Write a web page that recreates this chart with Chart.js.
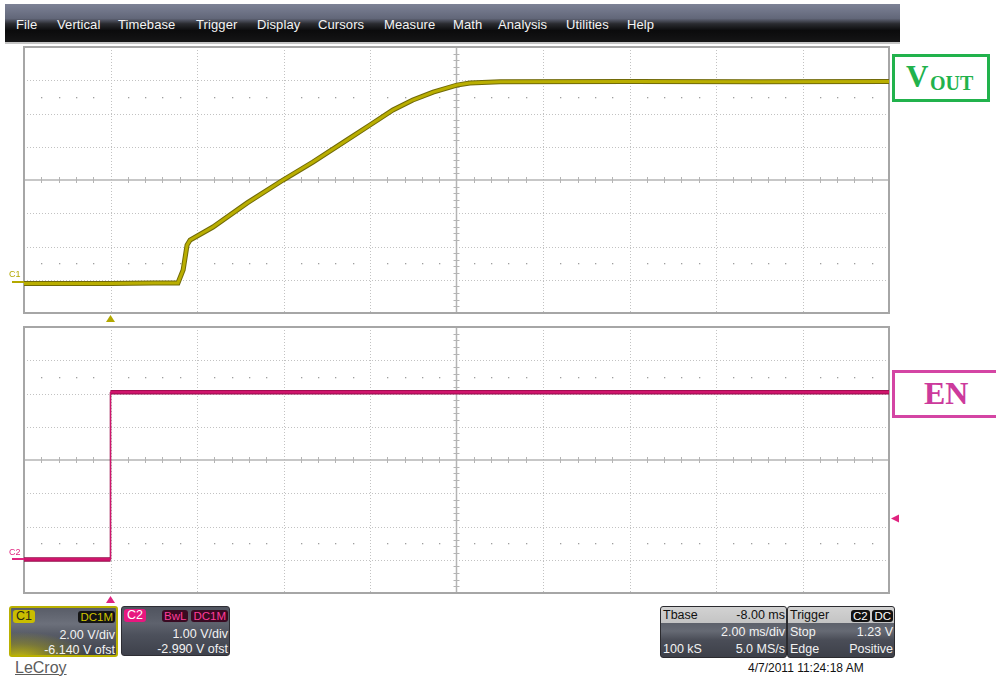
<!DOCTYPE html>
<html>
<head>
<meta charset="utf-8">
<script src="https://cdn.jsdelivr.net/npm/chart.js@4/dist/chart.umd.min.js"></script>
<style>
  html,body{margin:0;padding:0;background:#fff;}
  body{width:996px;height:681px;overflow:hidden;position:relative;font-family:"Liberation Sans",Arial,sans-serif;}
  .abs{position:absolute;}
  #menu{left:5px;top:4px;width:895px;height:38px;
    background:linear-gradient(180deg,#7d8296 0%,#626779 38%,#2a2b30 52%,#0b0b0c 70%,#151516 100%);
    border-bottom:2px solid #c4c4c4;}
  #menu span{position:absolute;top:13px;color:#f4f4f4;font-size:13px;letter-spacing:0.1px;}
  canvas{position:absolute;left:0;}
  .box{position:absolute;border-radius:3px;overflow:hidden;color:#f2f2f2;font-size:12.5px;}
  .box .t{position:absolute;white-space:nowrap;line-height:14px;}
  .badge{position:absolute;border-radius:3px;font-size:11.5px;line-height:12px;padding:0 2px;white-space:nowrap;}
  .lbl{position:absolute;font-family:"Liberation Serif","Times New Roman",serif;font-weight:bold;background:#fff;}
</style>
</head>
<body>
<div id="menu" class="abs">
  <span style="left:11px">File</span>
  <span style="left:52px">Vertical</span>
  <span style="left:113px">Timebase</span>
  <span style="left:191px">Trigger</span>
  <span style="left:252px">Display</span>
  <span style="left:313px">Cursors</span>
  <span style="left:379px">Measure</span>
  <span style="left:448px">Math</span>
  <span style="left:493px">Analysis</span>
  <span style="left:561px">Utilities</span>
  <span style="left:622px">Help</span>
</div>

<canvas id="c1" width="996" height="280" style="top:44px"></canvas>
<canvas id="c2" width="996" height="282" style="top:324px"></canvas>

<!-- channel labels -->
<div class="lbl" style="left:892px;top:54px;width:92px;height:42px;border:3px solid #21b24c;color:#21b24c;">
  <span style="position:absolute;left:11px;top:2px;font-size:31px;">V</span>
  <span style="position:absolute;left:35px;top:15px;font-size:20px;">OUT</span>
</div>
<div class="lbl" style="left:892px;top:370px;width:120px;height:42px;border:3px solid #d445a4;color:#cc3a9c;">
  <span style="position:absolute;left:29px;top:2px;font-size:32px;">EN</span>
</div>

<!-- C1 info box -->
<div class="box" style="left:9px;top:606px;width:105px;height:47px;border:2px solid #b9b000;
  background:radial-gradient(ellipse 70px 26px at 8px 50px, rgba(205,195,10,0.95) 0%, rgba(205,195,10,0.35) 55%, rgba(205,195,10,0) 100%),
  linear-gradient(180deg,#595d68 0%,#6c707b 34%,#585c67 55%,#3d404a 100%);">
  <div class="badge" style="left:2px;top:2px;background:#c9bd00;color:#2a2a10;font-size:12.5px;line-height:13px;padding:0 3px;">C1</div>
  <div class="badge" style="right:1px;top:3px;background:#141414;color:#cfc400;">DC1M</div>
  <div class="t" style="right:1px;top:20px;">2.00 V/div</div>
  <div class="t" style="right:1px;top:35px;">-6.140 V ofst</div>
</div>
<!-- C2 info box -->
<div class="box" style="left:121px;top:606px;width:107px;height:48px;border:1px solid #2e2e34;
  background:linear-gradient(180deg,#50545f 0%,#5e626d 34%,#4d515c 58%,#3e414b 100%);">
  <div class="badge" style="left:2px;top:2px;background:#e8177f;color:#fff;font-size:12.5px;line-height:13px;padding:0 3px;">C2</div>
  <div class="badge" style="left:40px;top:3px;background:#3a0a22;color:#ff3c9c;">BwL</div>
  <div class="badge" style="right:1px;top:3px;background:#3a0a22;color:#ff3c9c;">DC1M</div>
  <div class="t" style="right:1px;top:20px;">1.00 V/div</div>
  <div class="t" style="right:1px;top:35px;">-2.990 V ofst</div>
</div>
<!-- Tbase box -->
<div class="box" style="left:660px;top:606px;width:125px;height:50px;border:1px solid #2b2b2f;
  background:linear-gradient(180deg,#d2d2d2 0%,#c4c4c4 32%,#5d616b 32%,#666a74 48%,#4a4d57 66%,#3d4049 100%);">
  <div class="t" style="left:2px;top:1px;color:#111;">Tbase</div>
  <div class="t" style="right:1px;top:1px;color:#111;">-8.00 ms</div>
  <div class="t" style="right:1px;top:18px;">2.00 ms/div</div>
  <div class="t" style="left:2px;top:35px;">100 kS</div>
  <div class="t" style="right:1px;top:35px;">5.0 MS/s</div>
</div>
<!-- Trigger box -->
<div class="box" style="left:787px;top:606px;width:106px;height:50px;border:1px solid #2b2b2f;
  background:linear-gradient(180deg,#d2d2d2 0%,#c4c4c4 32%,#5d616b 32%,#666a74 48%,#4a4d57 66%,#3d4049 100%);">
  <div class="t" style="left:2px;top:1px;color:#111;">Trigger</div>
  <div class="badge" style="left:63px;top:3px;background:#111;color:#fff;">C2</div>
  <div class="badge" style="right:1px;top:3px;background:#111;color:#fff;">DC</div>
  <div class="t" style="left:2px;top:18px;">Stop</div>
  <div class="t" style="right:1px;top:18px;">1.23 V</div>
  <div class="t" style="left:2px;top:35px;">Edge</div>
  <div class="t" style="right:1px;top:35px;">Positive</div>
</div>

<div class="abs" style="left:15px;top:659px;font-size:16px;color:#5c5c5c;text-decoration:underline;">LeCroy</div>
<div class="abs" style="left:748px;top:661px;font-size:12px;color:#111;">4/7/2011 11:24:18 AM</div>

<script>
// ---------------- data ----------------
// time axis: ms, 2 ms/div, trigger at 0 ms (1 div from the left edge)
const timeGrid = [-2, 0, 2, 4, 6, 8, 10, 12, 14, 16, 18];

// C1 : VOUT (V), 2.00 V/div, offset -6.140 V
const voutTime = [-2.0, 0.0, 1.0, 1.56, 1.68, 1.77, 1.84, 2.37, 3.16, 3.99, 4.68, 5.47, 6.00, 6.53, 6.99, 7.46, 8.01, 8.31, 9.01, 12.0, 15.0, 18.0];
const voutVolts = [-0.08, -0.08, -0.06, -0.05, 0.73, 2.23, 2.53, 3.31, 4.76, 6.14, 7.22, 8.55, 9.45, 10.35, 10.95, 11.43, 11.85, 11.97, 12.05, 12.06, 12.05, 12.06];
const c1Grid = [-1.86, 0.14, 2.14, 4.14, 6.14, 8.14, 10.14, 12.14, 14.14];

// C2 : EN (V), 1.00 V/div, offset -2.990 V
const enTime = [-2.0, 0.0, 0.0, 18.0];
const enVolts = [0.0, 0.0, 5.03, 5.03];
const c2Grid = [-1.01, -0.01, 0.99, 1.99, 2.99, 3.99, 4.99, 5.99, 6.99];
const triggerLevel = 1.23;

// ---------------- plugins ----------------
function px(v){ return Math.round(v) + 0.5; }

const scopeGrid = {
  id: 'scopeGrid',
  beforeDatasetsDraw(chart, args, o) {
    const {ctx, chartArea: a} = chart;
    const xs = chart.scales.x, ys = chart.scales.y;
    const xP = o.xLines.map(v => xs.getPixelForValue(v));
    const yP = o.yLines.map(v => ys.getPixelForValue(v));
    const xc = xP[5], yc = yP[4];
    ctx.save();
    ctx.strokeStyle = '#c2c2c2'; ctx.lineWidth = 1; ctx.setLineDash([1, 2]);
    xP.forEach((p, i) => { if (i === 0 || i === 5 || i === xP.length - 1) return;
      ctx.beginPath(); ctx.moveTo(px(p), a.top); ctx.lineTo(px(p), a.bottom); ctx.stroke(); });
    yP.forEach((p, i) => { if (i === 0 || i === 4 || i === yP.length - 1) return;
      ctx.beginPath(); ctx.moveTo(a.left, px(p)); ctx.lineTo(a.right, px(p)); ctx.stroke(); });
    ctx.setLineDash([]);
    ctx.strokeStyle = '#b4b4b4'; ctx.lineWidth = 1.5;
    ctx.beginPath(); ctx.moveTo(xc, a.top); ctx.lineTo(xc, a.bottom); ctx.stroke();
    ctx.beginPath(); ctx.moveTo(a.left, yc); ctx.lineTo(a.right, yc); ctx.stroke();
    ctx.lineWidth = 1;
    for (let i = 0; i < xP.length - 1; i++) {
      for (let k = 1; k < 5; k++) {
        const x = px(xP[i] + (xP[i + 1] - xP[i]) * k / 5);
        ctx.beginPath(); ctx.moveTo(x, yc - 3); ctx.lineTo(x, yc + 3); ctx.stroke();
      }
    }
    for (let i = 0; i < yP.length - 1; i++) {
      for (let k = 1; k < 5; k++) {
        const y = px(yP[i] + (yP[i + 1] - yP[i]) * k / 5);
        ctx.beginPath(); ctx.moveTo(xc - 3, y); ctx.lineTo(xc + 3, y); ctx.stroke();
      }
    }
    ctx.fillStyle = '#9e9e9e';
    o.dotRows.forEach(v => {
      const y = Math.round(ys.getPixelForValue(v));
      for (let i = 0; i < xP.length - 1; i++) {
        for (let k = 1; k < 5; k++) {
          const x = Math.round(xP[i] + (xP[i + 1] - xP[i]) * k / 5);
          ctx.fillRect(x, y, 1.3, 1.3);
        }
      }
    });
    ctx.strokeStyle = '#a6a6a6'; ctx.lineWidth = 2;
    ctx.strokeRect(a.left, a.top, a.right - a.left, a.bottom - a.top);
    ctx.restore();
  }
};

const scopeMarkers = {
  id: 'scopeMarkers',
  afterDraw(chart, args, o) {
    const {ctx, chartArea: a} = chart;
    const xs = chart.scales.x, ys = chart.scales.y;
    ctx.save();
    ctx.fillStyle = o.color;
    const xt = xs.getPixelForValue(0);
    const t0 = a.bottom + o.triGap;
    ctx.beginPath(); ctx.moveTo(xt, t0); ctx.lineTo(xt - 4.5, t0 + 7); ctx.lineTo(xt + 4.5, t0 + 7); ctx.closePath(); ctx.fill();
    const yg = Math.round(ys.getPixelForValue(0));
    ctx.fillRect(12, yg - 1, a.left - 12, 2);
    ctx.font = '9px "Liberation Sans", Arial, sans-serif';
    ctx.textBaseline = 'alphabetic';
    ctx.fillText(o.label, 9, yg - o.labelGap);
    if (o.level !== null) {
      const yl = ys.getPixelForValue(o.level);
      ctx.beginPath(); ctx.moveTo(a.right + 2, yl); ctx.lineTo(a.right + 10, yl - 4); ctx.lineTo(a.right + 10, yl + 4); ctx.closePath(); ctx.fill();
    }
    ctx.restore();
  }
};

function pts(xa, ya){ return xa.map((x, i) => ({x: x, y: ya[i]})); }

function makeChart(id, xArr, yArr, grid, dark, core, opts) {
  return new Chart(document.getElementById(id), {
    type: 'line',
    data: { datasets: [
      { data: pts(xArr, yArr), borderColor: dark, borderWidth: opts.darkW, pointRadius: 0, tension: 0, order: 2,
        segment: { borderWidth: c => c.p0.parsed.x === c.p1.parsed.x ? 1.6 : opts.darkW } },
      { data: pts(xArr, yArr), borderColor: core, borderWidth: opts.coreW, pointRadius: 0, tension: 0, order: 1,
        segment: { borderWidth: c => c.p0.parsed.x === c.p1.parsed.x ? 1 : opts.coreW } }
    ]},
    options: {
      responsive: false, animation: false, devicePixelRatio: 1,
      layout: { padding: opts.pad },
      plugins: { legend: {display: false}, tooltip: {enabled: false},
        scopeGrid: { xLines: timeGrid, yLines: grid, dotRows: opts.dotRows },
        scopeMarkers: { color: opts.mark, label: opts.label, labelGap: opts.labelGap, triGap: opts.triGap, level: opts.level } },
      scales: {
        x: { type: 'linear', min: timeGrid[0], max: timeGrid[timeGrid.length - 1], display: false },
        y: { type: 'linear', min: grid[0], max: grid[grid.length - 1], display: false }
      }
    },
    plugins: [scopeGrid, scopeMarkers]
  });
}

makeChart('c1', voutTime, voutVolts, c1Grid, '#716a08', '#b9ae00', {
  pad: {left: 24, right: 107, top: 3, bottom: 11}, darkW: 5, coreW: 3,
  dotRows: [c1Grid[8] - 3, c1Grid[0] + 3], mark: '#b3a800', label: 'C1', labelGap: 5, triGap: 2, level: null
});
makeChart('c2', enTime, enVolts, c2Grid, '#930b48', '#d0146c', {
  pad: {left: 24, right: 107, top: 3, bottom: 13}, darkW: 4.5, coreW: 2.6,
  dotRows: [c2Grid[8] - 1.5, c2Grid[0] + 1.5], mark: '#e0237f', label: 'C2', labelGap: 4, triGap: 3, level: triggerLevel
});
</script>
</body>
</html>
